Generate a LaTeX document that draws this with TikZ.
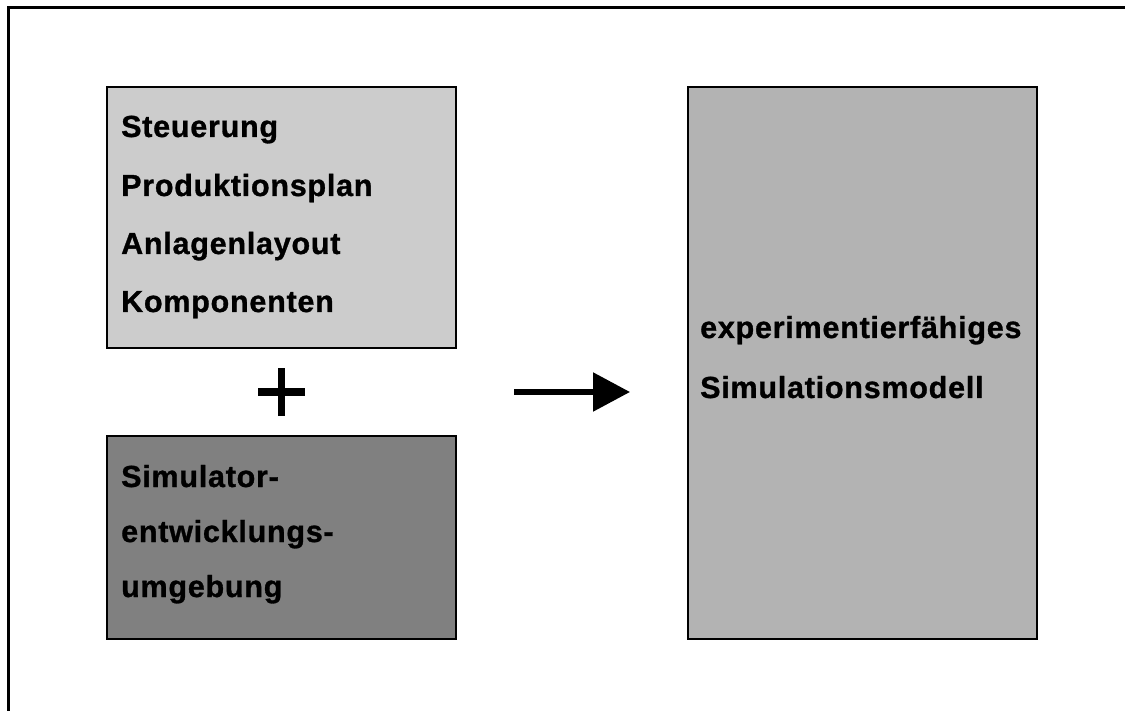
\documentclass[tikz,border=0pt]{standalone}
\usepackage{fontspec}
\usetikzlibrary{arrows.meta}
\newfontfamily\labelfont{Liberation Sans}[LetterSpace=2.5, BoldFeatures={FakeBold=1}]
\definecolor{paneLight}{HTML}{CCCCCC}
\definecolor{paneDark}{HTML}{808080}
\definecolor{paneMid}{HTML}{B3B3B3}
\begin{document}
\begin{tikzpicture}[x=1pt,y=-1pt,
  pane/.style={draw=black, line width=1.2pt, anchor=north west, inner sep=0pt, outer sep=0pt},
  label/.style={anchor=base west, inner sep=0pt, font=\labelfont\bfseries\fontsize{30.5}{32}\selectfont, text=black},
  bigarrow/.style={line width=5.5pt, -{Triangle[length=37pt,width=38pt]}},
  plusbar/.style={line width=7pt}]
  \useasboundingbox (0,0) rectangle (1125,711);
  % open frame: top and left edges
  \draw[line width=3pt] (8,711) -- (8,7.5) -- (1125,7.5);

  % input panes
  \node[pane, fill=paneLight, minimum width=349pt, minimum height=261pt] (inputs) at (107,87) {};
  \node[pane, fill=paneDark, minimum width=349pt, minimum height=203pt] (simenv) at (107,436) {};
  % result pane
  \node[pane, fill=paneMid, minimum width=349pt, minimum height=552pt] (model) at (688,87) {};

  % texts of the input pane
  \node[label] (t1) at (121,137) {Steuerung};
  \node[label] (t2) at (121,196) {Produktionsplan};
  \node[label] (t3) at (121,254) {Anlagenlayout};
  \node[label] (t4) at (121,312) {Komponenten};

  % texts of the simulator pane
  \node[label] (t5) at (121,487) {Simulator-};
  \node[label] (t6) at (121,542) {entwicklungs-};
  \node[label] (t7) at (121,597) {umgebung};

  % texts of the result pane
  \node[label] (t8) at (700,338) {experimentierfähiges};
  \node[label] (t9) at (700,398) {Simulationsmodell};

  % plus sign
  \coordinate (plusc) at (281.5,392);
  \draw[plusbar] ([xshift=-23.5pt]plusc) -- ([xshift=23.5pt]plusc);
  \draw[plusbar] ([yshift=-24pt]plusc) -- ([yshift=24pt]plusc);

  % arrow
  \coordinate (arrowstart) at (514,392);
  \coordinate (arrowend) at (630,392);
  \draw[bigarrow] (arrowstart) -- (arrowend);
\end{tikzpicture}
\end{document}
